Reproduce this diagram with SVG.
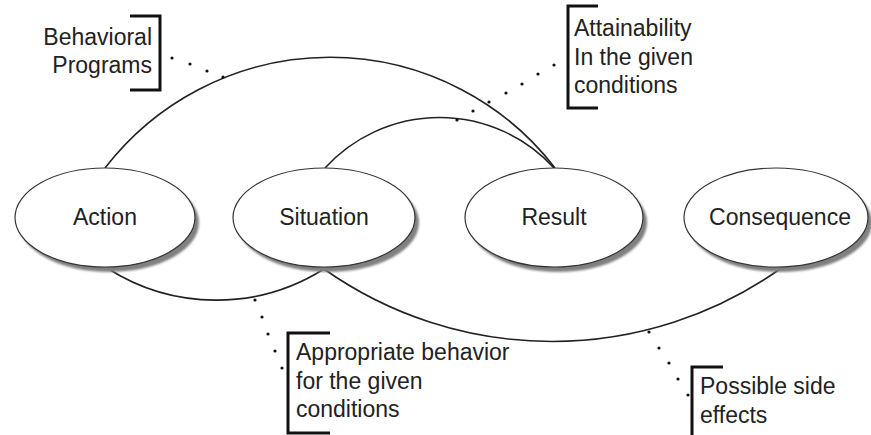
<svg xmlns="http://www.w3.org/2000/svg" width="871" height="435" viewBox="0 0 871 435">
<style>
  .shadow { fill: #808080; }
  .node { fill: #ffffff; stroke: #333333; stroke-width: 1.2; }
  .lbl { font-family: "Liberation Sans", Arial, sans-serif; font-size: 23px; fill: #222222; }
  .arc { fill: none; stroke: #222222; stroke-width: 1.6; }
  .br { fill: none; stroke: #111111; stroke-width: 3; }
  .dot { fill: #111111; }
</style>
<defs>
  <filter id="blur" x="-10%" y="-10%" width="120%" height="130%">
    <feGaussianBlur stdDeviation="0.9"/>
  </filter>
</defs>
<rect width="871" height="435" fill="#ffffff"/>

<g id="connectors">
  <path class="arc" d="M105,168 A284,284 0 0 1 555,168"/>
  <path class="arc" d="M325,168 A155,155 0 0 1 554,168"/>
  <path class="arc" d="M107,268 A202,202 0 0 0 324,269"/>
  <path class="arc" d="M324,269 A395,395 0 0 0 780,269"/>
</g>

<g id="node-action">
  <ellipse class="shadow" cx="109" cy="222.5" rx="90" ry="49.5" filter="url(#blur)"/>
  <ellipse class="node" cx="105" cy="217.5" rx="90" ry="49.5"/>
  <text class="lbl" x="105" y="225" text-anchor="middle">Action</text>
</g>
<g id="node-situation">
  <ellipse class="shadow" cx="328" cy="222.5" rx="91" ry="49.5" filter="url(#blur)"/>
  <ellipse class="node" cx="324" cy="217.5" rx="91" ry="49.5"/>
  <text class="lbl" x="324" y="225" text-anchor="middle">Situation</text>
</g>
<g id="node-result">
  <ellipse class="shadow" cx="558" cy="222.5" rx="89" ry="49.5" filter="url(#blur)"/>
  <ellipse class="node" cx="554" cy="217.5" rx="89" ry="49.5"/>
  <text class="lbl" x="554" y="225" text-anchor="middle">Result</text>
</g>
<g id="node-consequence">
  <ellipse class="shadow" cx="780" cy="222.5" rx="92" ry="49.5" filter="url(#blur)"/>
  <ellipse class="node" cx="776" cy="217.5" rx="92" ry="49.5"/>
  <text class="lbl" x="780" y="225" text-anchor="middle">Consequence</text>
</g>

<g id="note-behavioral">
  <path class="br" d="M130,16 H160 V90 H130"/>
  <text class="lbl" x="152" y="45" text-anchor="end">Behavioral</text>
  <text class="lbl" x="152" y="73" text-anchor="end">Programs</text>
  <circle class="dot" cx="172" cy="58" r="1.6"/>
  <circle class="dot" cx="190" cy="64" r="1.6"/>
  <circle class="dot" cx="207" cy="71" r="1.6"/>
  <circle class="dot" cx="223" cy="77" r="1.6"/>
</g>

<g id="note-attainability">
  <path class="br" d="M598,6 H568 V108 H598"/>
  <text class="lbl" x="574" y="36">Attainability</text>
  <text class="lbl" x="574" y="65">In the given</text>
  <text class="lbl" x="574" y="93">conditions</text>
  <circle class="dot" cx="554" cy="65" r="1.6"/>
  <circle class="dot" cx="538" cy="74" r="1.6"/>
  <circle class="dot" cx="522" cy="84" r="1.6"/>
  <circle class="dot" cx="506" cy="93" r="1.6"/>
  <circle class="dot" cx="489" cy="102" r="1.6"/>
  <circle class="dot" cx="473" cy="111" r="1.6"/>
  <circle class="dot" cx="457" cy="120" r="1.6"/>
</g>

<g id="note-appropriate">
  <path class="br" d="M330,333 H288 V433 H330"/>
  <text class="lbl" x="296" y="360">Appropriate behavior</text>
  <text class="lbl" x="296" y="389">for the given</text>
  <text class="lbl" x="296" y="417">conditions</text>
  <circle class="dot" cx="255" cy="300" r="1.6"/>
  <circle class="dot" cx="262" cy="317" r="1.6"/>
  <circle class="dot" cx="268" cy="334" r="1.6"/>
  <circle class="dot" cx="275" cy="351" r="1.6"/>
  <circle class="dot" cx="282" cy="368" r="1.6"/>
</g>

<g id="note-side-effects">
  <path class="br" d="M723,367 H692 V437"/>
  <text class="lbl" x="700" y="394">Possible side</text>
  <text class="lbl" x="700" y="423">effects</text>
  <circle class="dot" cx="649" cy="332" r="1.6"/>
  <circle class="dot" cx="659" cy="348" r="1.6"/>
  <circle class="dot" cx="669" cy="363" r="1.6"/>
  <circle class="dot" cx="678" cy="379" r="1.6"/>
  <circle class="dot" cx="688" cy="395" r="1.6"/>
</g>
</svg>
